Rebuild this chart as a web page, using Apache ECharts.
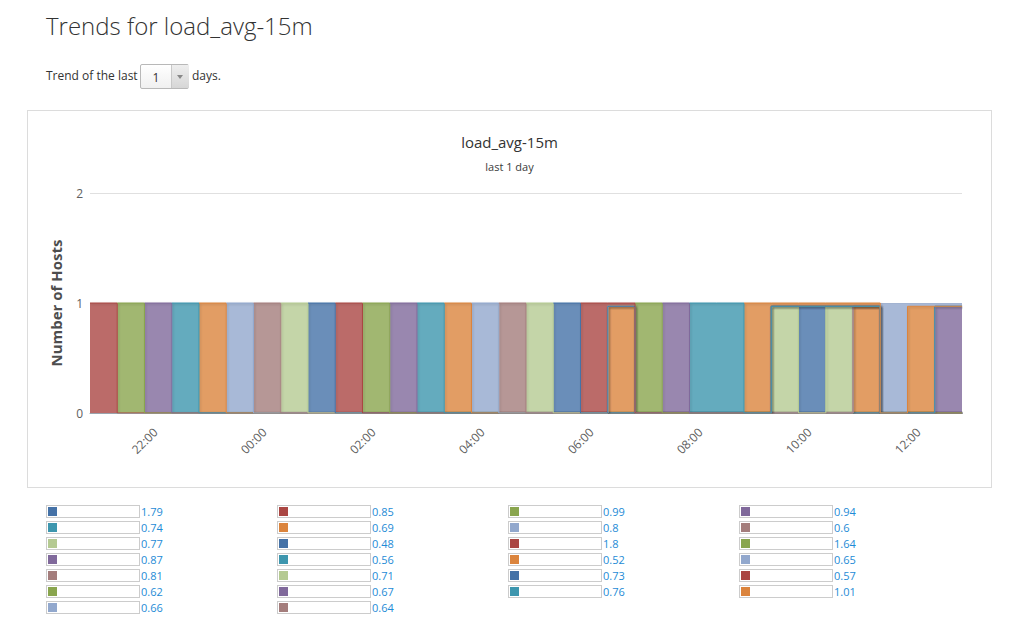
<!DOCTYPE html>
<html><head><meta charset="utf-8">
<script src="https://cdn.jsdelivr.net/npm/echarts@6/dist/echarts.min.js"></script>
<style>
html,body{margin:0;padding:0;background:#fff;}
body{width:1026px;height:636px;position:relative;font-family:"Open Sans",sans-serif;color:#333;overflow:hidden;}
#h{position:absolute;left:46px;top:10px;margin:0;font-size:24px;font-weight:300;line-height:32px;color:#333;white-space:nowrap;}
#trend{position:absolute;left:46px;top:66px;font-size:12px;line-height:20px;white-space:nowrap;}
#sel{position:absolute;left:140px;top:64px;width:47px;height:23px;border:1px solid #b8b8b8;border-radius:2px;background:linear-gradient(#fff,#f0f0f0);}
#sel .v{position:absolute;left:0;top:0;width:30px;height:23px;line-height:25px;text-align:center;font-size:12px;color:#333;}
#sel .a{position:absolute;left:30px;top:0;width:17px;height:23px;background:linear-gradient(#eee,#d6d6d6);border-left:1px solid #c8c8c8;}
#sel .a:after{content:"";position:absolute;left:5px;top:10px;border-left:3.5px solid transparent;border-right:3.5px solid transparent;border-top:4px solid #888;}
#days{position:absolute;left:192px;top:66px;font-size:12px;line-height:20px;}
#box{position:absolute;left:27px;top:110px;width:963px;height:376px;border:1px solid #dcdcdc;}
#chart{position:absolute;left:0;top:0;width:963px;height:376px;}
#legend{position:absolute;left:46px;top:505px;width:980px;}
.li{position:absolute;height:13px;font-size:11px;line-height:13px;}
.li .b{position:absolute;left:0;top:0;width:92px;height:11px;border:1px solid #cccccc;}
.li .s{position:absolute;left:2px;top:2px;width:9px;height:9px;}
.li .t{position:absolute;left:95px;top:0;color:#1e8bd6;white-space:nowrap;}
</style></head>
<body>
<h2 id="h">Trends for load_avg-15m</h2>
<div id="trend">Trend of the last</div>
<div id="sel"><div class="v">1</div><div class="a"></div></div>
<div id="days">days.</div>
<div id="box"><div id="chart"></div></div>
<div id="legend"></div>
<script>
// ---- data ----
const seriesNames = ['1.79','0.85','0.99','0.94','0.74','0.69','0.8','0.6','0.77','0.48','1.8','1.64','0.87','0.56','0.52','0.65','0.81','0.71','0.73','0.57','0.62','0.67','0.76','1.01','0.66','0.64'];
const palette = ['#4572A7','#AA4643','#89A54E','#80699B','#3D96AE','#DB843D','#92A8CD','#A47D7C','#B5CA92'];
// boundaries of the 30-minute slots (33 boundaries -> 32 slots)
const slotTimes = ['20:48','21:18','21:48','22:18','22:48','23:18','23:48','00:18','00:48','01:18','01:48','02:18','02:48','03:18','03:48','04:18','04:48','05:18','05:48','06:18','06:48','07:18','07:48','08:18','08:48','09:18','09:48','10:18','10:48','11:18','11:48','12:18','12:48'];
// series (index into seriesNames) that fills each slot, and its height
const slotMain      = [1,2,3,4,5,6,7,8,9,10,11,12,13,14,15,16,17,18,19,14,20,21,22,22,23,17,18,17,14,24,23,21];
const slotMainValue = [1,1,1,1,1,1,1,1,1,1,1,1,1,1,1,1,1,1,1,0.97,1,1,1,1,1,0.97,0.97,0.97,0.97,1,0.97,0.97];
// series still reporting a small share on top of the slot (-1 = none)
const slotTop       = [-1,-1,-1,-1,-1,-1,-1,-1,-1,-1,-1,-1,-1,-1,-1,-1,-1,-1,-1,19,-1,-1,-1,-1,-1,23,23,23,23,-1,24,24];
const slotTopValue  = [0,0,0,0,0,0,0,0,0,0,0,0,0,0,0,0,0,0,0,0.03,0,0,0,0,0,0.03,0.03,0.03,0.03,0,0.03,0.03];
const reportingFromStart = [0];
const tickLabels = ['22:00','00:00','02:00','04:00','06:00','08:00','10:00','12:00'];
const yTicks = [0,1,2];

// ---- helpers (times are minutes of a UTC day, as epoch milliseconds) ----
const startMin = (()=>{const p=slotTimes[0].split(':');return +p[0]*60+ +p[1];})();
function toMs(s){const p=s.split(':');let m=+p[0]*60+ +p[1];if(m<startMin)m+=1440;return m*60000;}
function fmt(ms){let m=Math.round(ms/60000);m=((m%1440)+1440)%1440;const h=Math.floor(m/60),mm=m%60;return (h<10?'0':'')+h+':'+(mm<10?'0':'')+mm;}
const xs = slotTimes.map(toMs);
const tickMs = tickLabels.map(toMs);

const series = seriesNames.map((name,s)=>{
  let started = reportingFromStart.indexOf(s)>=0;
  const data=[];let last=null;
  for(let j=0;j<slotMain.length;j++){
    let v=null;
    if(slotMain[j]===s){v=slotMainValue[j];}
    else if(slotTop[j]===s){v=slotTopValue[j];}
    else if(started){v=0;}
    if(v!==null&&v>0)started=true;
    data.push([xs[j],v]);last=v;
  }
  data.push([xs[xs.length-1],last]);
  const c=palette[s%palette.length];
  return {name,type:'line',stack:'hosts',step:'end',connectNulls:true,data,symbol:'none',showSymbol:false,
    color:c,lineStyle:{width:1,color:c,shadowColor:'rgba(0,0,0,0.18)',shadowBlur:2,shadowOffsetX:1,shadowOffsetY:1},
    areaStyle:{color:c,opacity:0.8},emphasis:{disabled:true},animation:false};
});

const chart = echarts.init(document.getElementById('chart'),null,{renderer:'svg'});
chart.setOption({
  animation:false,
  useUTC:true,
  textStyle:{fontFamily:'"Open Sans", sans-serif'},
  title:[
    {text:'load_avg-15m',left:'center',top:23,padding:0,textStyle:{fontSize:15,fontWeight:'normal',color:'#333',fontFamily:'"Open Sans", sans-serif'}},
    {text:'last 1 day',left:'center',top:50,padding:0,textStyle:{fontSize:11,fontWeight:'normal',color:'#3a3a3a',fontFamily:'"Open Sans", sans-serif'}}
  ],
  grid:{left:62,right:29,top:82,bottom:74,containLabel:false},
  xAxis:{type:'time',min:xs[0],max:xs[xs.length-1],splitNumber:6,
    axisLine:{show:true,lineStyle:{color:'#9aa4ae'}},axisTick:{show:false},splitLine:{show:false},minorTick:{show:false},
    axisLabel:{rotate:45,margin:17,color:'#606060',fontSize:12,fontWeight:'normal',showMinLabel:false,showMaxLabel:false,
      formatter:function(v){return tickMs.indexOf(v)>=0?fmt(v):'';}}},
  yAxis:{type:'value',min:yTicks[0],max:yTicks[yTicks.length-1],interval:1,
    name:'Number of Hosts',nameLocation:'middle',nameRotate:90,nameGap:27,
    nameTextStyle:{fontSize:15,fontWeight:'bold',color:'#4d4d4d'},
    axisLine:{show:false},axisTick:{show:false},
    axisLabel:{margin:7,color:'#606060',fontSize:12},
    splitLine:{lineStyle:{color:'#e0e0e0'}}},
  series
});

// HTML legend (4 columns, row-major, same order/colors as series)
const lg=document.getElementById('legend');
seriesNames.forEach((n,i)=>{
  const d=document.createElement('div');d.className='li';
  d.style.left=(i%4)*231+'px';d.style.top=Math.floor(i/4)*16+'px';
  d.innerHTML='<div class="b"></div><div class="s" style="background:'+palette[i%palette.length]+'"></div><div class="t">'+n+'</div>';
  lg.appendChild(d);
});
</script>
</body></html>
